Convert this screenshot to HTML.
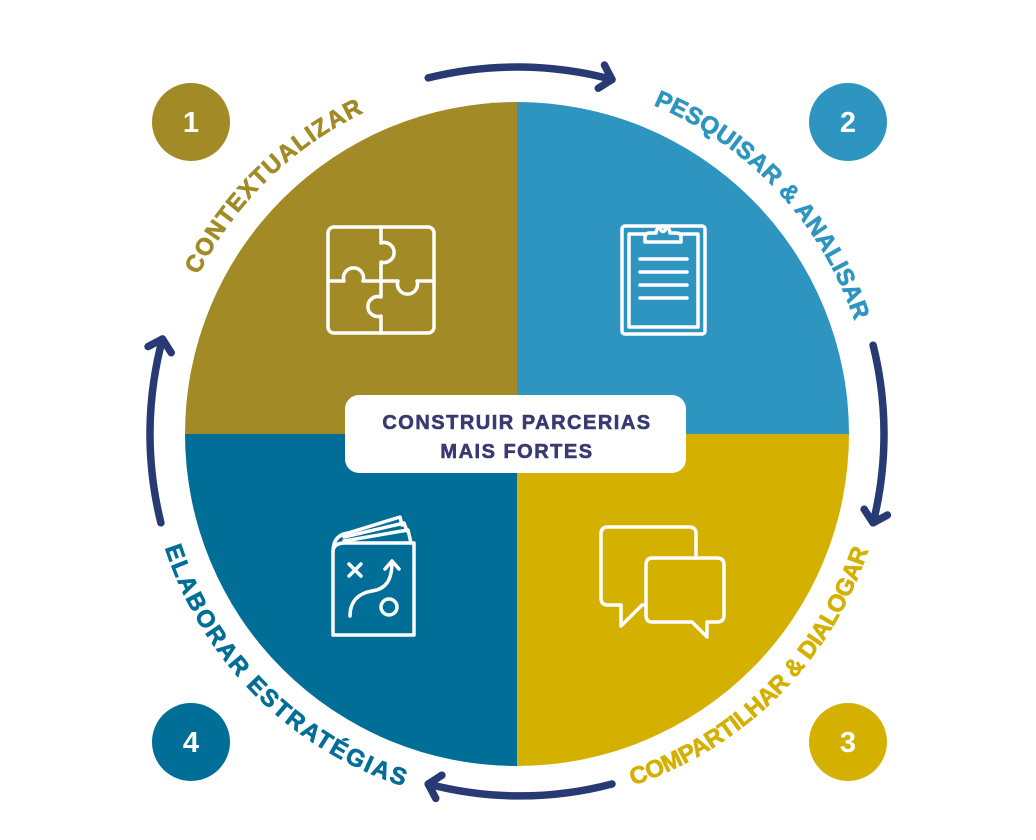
<!DOCTYPE html>
<html><head><meta charset="utf-8"><style>
html,body{margin:0;padding:0;background:#fff;}
svg{display:block;}
text{font-family:"Liberation Sans",sans-serif;font-weight:bold;}
</style></head><body>
<svg width="1036" height="840" viewBox="0 0 1036 840" xmlns="http://www.w3.org/2000/svg">
<defs>
<marker id="h" markerWidth="30" markerHeight="30" refX="15" refY="15" orient="auto" markerUnits="userSpaceOnUse" overflow="visible">
<path d="M4,3 L15,15 L4,27" fill="none" stroke="#283A74" stroke-width="7.5" stroke-linecap="round" stroke-linejoin="round"/>
</marker>
<path id="p1" d="M161,430.9 A356,356 0 0 1 520.1,78"/>
<path id="p2" d="M529.4,78.2 A356,356 0 0 1 872.8,446.4"/>
<path id="p3" d="M517,804 A370,370 0 0 0 887,434"/>
<path id="p4" d="M147,434 A370,370 0 0 0 517,804"/>
</defs>

<path d="M517,434 L185,434 A332,332 0 0 1 517,102 Z" fill="#A28A26"/>
<path d="M517,434 L517,102 A332,332 0 0 1 849,434 Z" fill="#2E95C0"/>
<path d="M517,434 L849,434 A332,332 0 0 1 517,766 Z" fill="#D4B000"/>
<path d="M517,434 L517,766 A332,332 0 0 1 185,434 Z" fill="#006E96"/>

<g fill="none" stroke="#283A74" stroke-width="7.5" stroke-linecap="round" marker-end="url(#h)">
<path d="M428.2,77.9 A367,367 0 0 1 612,79.5"/>
<path d="M873.1,345.2 A367,367 0 0 1 873.1,522.8"/>
<path d="M612,784 A360,360 0 0 1 428.2,784"/>
<path d="M160.9,522.8 A367,367 0 0 1 162.5,339"/>
</g>

<g font-size="24" stroke-width="0.7">
<text fill="#A28A26" stroke="#A28A26"><textPath href="#p1" startOffset="50%" text-anchor="middle" textLength="236" lengthAdjust="spacing">CONTEXTUALIZAR</textPath></text>
<text fill="#2E95C0" stroke="#2E95C0"><textPath href="#p2" startOffset="50%" text-anchor="middle" textLength="304" lengthAdjust="spacing">PESQUISAR &amp; ANALISAR</textPath></text>
<text fill="#D4B000" stroke="#D4B000"><textPath href="#p3" startOffset="50%" text-anchor="middle" textLength="345" lengthAdjust="spacing">COMPARTILHAR &amp; DIALOGAR</textPath></text>
<text fill="#006E96" stroke="#006E96"><textPath href="#p4" startOffset="50%" text-anchor="middle" textLength="350" lengthAdjust="spacing">ELABORAR ESTRATÉGIAS</textPath></text>
</g>

<circle cx="191" cy="122" r="39" fill="#A28A26"/>
<circle cx="848" cy="122" r="39" fill="#2E95C0"/>
<circle cx="848" cy="742" r="39" fill="#D4B000"/>
<circle cx="191" cy="742" r="39" fill="#006E96"/>
<g fill="#fff" font-size="29" text-anchor="middle">
<text x="191" y="132">1</text>
<text x="848" y="132">2</text>
<text x="848" y="752">3</text>
<text x="191" y="752">4</text>
</g>

<g fill="none" stroke="#fff" stroke-width="3.5" stroke-linecap="round" stroke-linejoin="round">
<rect x="328" y="227" width="106" height="106" rx="6"/>
<path d="M381,227 V243 A10,10 0 1 1 381,262 V297 A10,10 0 1 0 381,316 V333"/>
<path d="M328,281 H344 A10,10 0 1 1 363,281 H398 A10,10 0 1 0 417,281 H434"/>
<rect x="622" y="226" width="83" height="108" rx="3"/>
<rect x="629" y="234" width="69" height="93"/>
<path d="M645,242 H681 V237 Q681,233 676,233 H670 A7,7 0 1 0 656,233 H650 Q645,233 645,237 Z" fill="#2E95C0"/>
<circle cx="663" cy="229" r="2.5"/>
<path d="M640,259 H687 M640,272 H687 M640,285 H687 M640,298 H687"/>
<path d="M333,552 V635 H414 V543 H345 Q333,543 333,552"/>
<path d="M333,552 Q333,535 348,533 L400,517 L402,525"/>
<path d="M344,537 L404,523 L407,531"/>
<path d="M344,541 L408,530 L411,543"/>
<path d="M349,564 L361,576 M361,564 L349,576"/>
<path d="M350,616 C350,600 360,593 372,591 C386,589 392,580 392,562"/>
<path d="M385,569 L392,561 L399,569"/>
<circle cx="389" cy="607" r="8"/>
<path d="M608,527 H689 Q696,527 696,534 V598 Q696,605 689,605 H642 L621,626 V605 H608 Q601,605 601,598 V534 Q601,527 608,527 Z"/>
<path d="M652,558 H717 Q724,558 724,565 V615 Q724,622 717,622 H707 V637 L692,622 H652 Q646,622 646,615 V565 Q646,558 652,558 Z" fill="#D4B000"/>
</g>

<rect x="345" y="395" width="341" height="78" rx="14" fill="#fff"/>
<g fill="#3A3A72" stroke="#3A3A72" stroke-width="0.6" font-size="20" text-anchor="middle" letter-spacing="1.5">
<text x="517" y="429">CONSTRUIR PARCERIAS</text>
<text x="517" y="458">MAIS FORTES</text>
</g>
</svg>
</body></html>
